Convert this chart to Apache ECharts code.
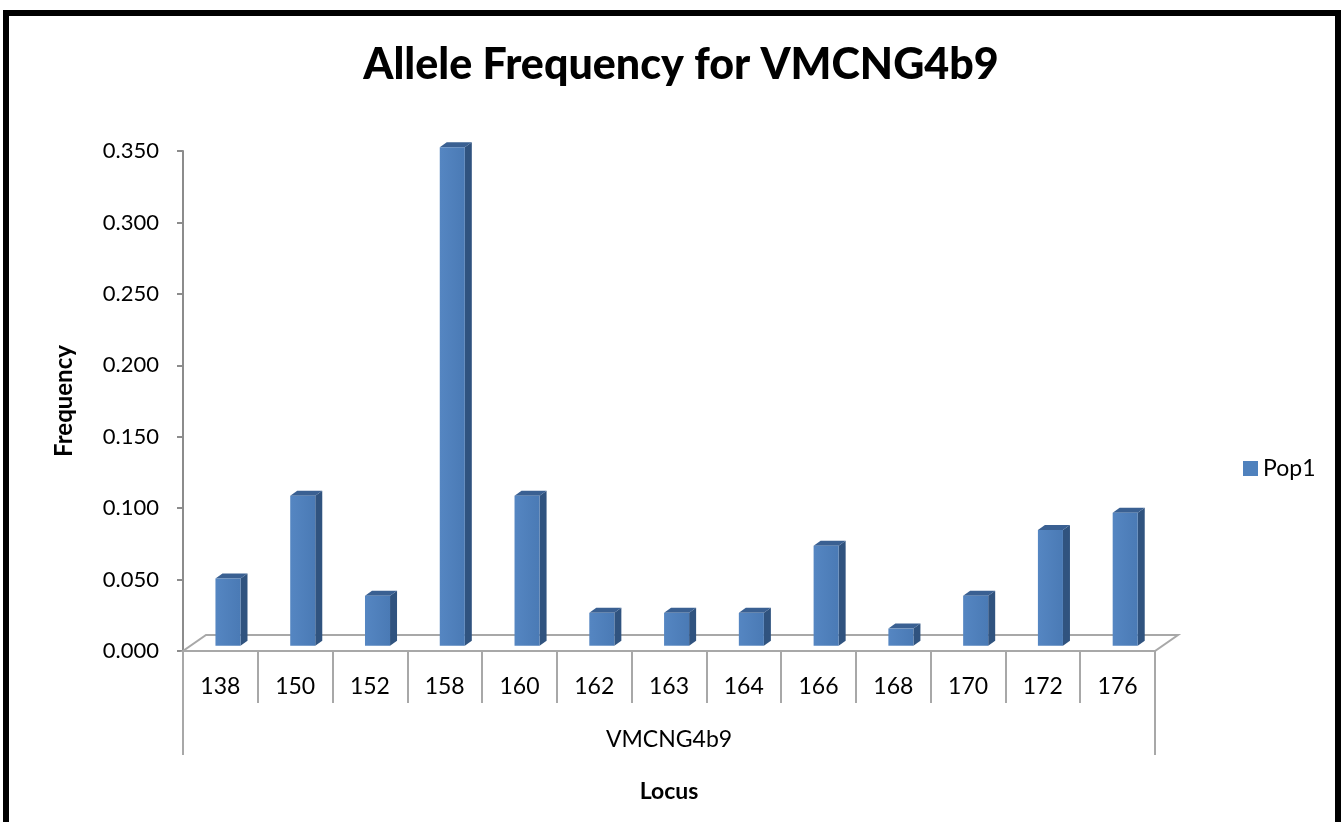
<!DOCTYPE html>
<html>
<head>
<meta charset="utf-8">
<script src="https://cdn.jsdelivr.net/npm/echarts@6/dist/echarts.min.js"></script>
<style>
  html, body { margin: 0; padding: 0; background: #fff; }
  #chart { width: 1341px; height: 822px; }
</style>
</head>
<body>
<div id="chart"></div>
<script>
const categories = ['138', '150', '152', '158', '160', '162', '163', '164', '166', '168', '170', '172', '176'];
const pop1 = [0.047, 0.105, 0.035, 0.349, 0.105, 0.023, 0.023, 0.023, 0.070, 0.012, 0.035, 0.081, 0.093];
const groupLabels = ['VMCNG4b9'];
const yTicks = { min: 0, max: 0.35, interval: 0.05 };

const FONT = 'Lato';
const DEPTH_X = 23, DEPTH_Y = -16;   // floor depth
const FRONT_F = 0.33;                 // bar front face depth fraction
const SIDE_X = 7, SIDE_Y = -5;        // bar own depth
const AXIS_GRAY = '#8C8C8C';

const chart = echarts.init(document.getElementById('chart'));

function renderBar(params, api) {
  const i = api.value(0), v = api.value(1);
  const base = api.coord([i, 0]);
  const top = api.coord([i, v]);
  const band = api.size([1, 0])[0];
  const w = band * 0.335;
  const cx = base[0] + DEPTH_X * FRONT_F;
  const x0 = cx - w / 2, x1 = cx + w / 2;
  const yb = base[1] + DEPTH_Y * FRONT_F;
  const yt = top[1] + DEPTH_Y * FRONT_F;
  return {
    type: 'group',
    children: [
      { type: 'polygon', shape: { points: [[x1, yb], [x1 + SIDE_X, yb + SIDE_Y], [x1 + SIDE_X, yt + SIDE_Y], [x1, yt]] },
        style: { fill: '#30537F' } },
      { type: 'polygon', shape: { points: [[x0, yt], [x0 + SIDE_X, yt + SIDE_Y], [x1 + SIDE_X, yt + SIDE_Y], [x1, yt]] },
        style: { fill: '#3A6092' } },
      { type: 'rect', shape: { x: x0, y: yt, width: w, height: yb - yt },
        style: { fill: new echarts.graphic.LinearGradient(0, 0, 1, 0, [
          { offset: 0, color: '#5586C2' }, { offset: 1, color: '#4A7AB5' }]) } }
    ]
  };
}

function renderFloor(params, api) {
  const cs = params.coordSys;
  const yf = cs.y + cs.height;
  return {
    type: 'polygon',
    shape: { points: [[cs.x, yf], [cs.x + cs.width, yf], [cs.x + cs.width + DEPTH_X, yf + DEPTH_Y], [cs.x + DEPTH_X, yf + DEPTH_Y]] },
    style: { fill: 'none', stroke: '#A8A8A8', lineWidth: 2 }
  };
}

const option = {
  animation: false,
  backgroundColor: '#ffffff',
  title: {
    text: 'Allele Frequency for VMCNG4b9',
    left: 676, textAlign: 'center', top: 39,
    textStyle: { fontFamily: FONT, fontWeight: 900, fontSize: 43, color: '#000' }
  },
  legend: {
    data: [{ name: 'Pop1', icon: 'rect' }],
    left: 1238, top: 452,
    itemWidth: 15, itemHeight: 15, itemGap: 10,
    textStyle: { fontFamily: FONT, fontSize: 23, color: '#000', padding: [0, 0, 0, 0] }
  },
  graphic: [
    { type: 'rect', shape: { x: 6, y: 13, width: 1332, height: 900 },
      style: { fill: 'none', stroke: '#000', lineWidth: 6 }, z: 100 }
  ],
  grid: { left: 183, right: 186, top: 151, bottom: 171, containLabel: false },
  xAxis: [
    {
      type: 'category', data: categories, position: 'bottom',
      axisLine: { show: true, lineStyle: { color: '#A8A8A8', width: 2 } },
      axisTick: { show: true, interval: 0, length: 52, lineStyle: { color: AXIS_GRAY, width: 1.5 } },
      axisLabel: { interval: 0, margin: 24, fontFamily: FONT, fontSize: 23, color: '#000' },
      splitLine: { show: false }
    },
    {
      type: 'category', data: groupLabels, position: 'bottom', offset: 0,
      axisLine: { show: false },
      axisTick: { show: true, interval: 0, length: 104, lineStyle: { color: AXIS_GRAY, width: 1.5 } },
      axisLabel: { interval: 0, margin: 77, fontFamily: FONT, fontSize: 23, color: '#000' },
      name: 'Locus', nameLocation: 'middle', nameGap: 129,
      nameTextStyle: { fontFamily: FONT, fontWeight: 'bold', fontSize: 23, color: '#000' },
      splitLine: { show: false }
    }
  ],
  yAxis: {
    type: 'value', min: yTicks.min, max: yTicks.max, interval: yTicks.interval,
    axisLine: { show: true, lineStyle: { color: AXIS_GRAY, width: 2 } },
    axisTick: { show: true, length: 6, lineStyle: { color: AXIS_GRAY, width: 2 } },
    axisLabel: { margin: 24, fontFamily: FONT, fontSize: 22, color: '#000',
      formatter: v => v.toFixed(3) },
    splitLine: { show: false },
    name: 'Frequency', nameLocation: 'middle', nameGap: 107,
    nameTextStyle: { fontFamily: FONT, fontWeight: 'bold', fontSize: 24, color: '#000' }
  },
  series: [
    {
      name: 'floor', type: 'custom', xAxisIndex: 0, renderItem: renderFloor,
      data: [[0, 0]], z: 1, silent: true
    },
    {
      name: 'Pop1', type: 'custom', xAxisIndex: 0, renderItem: renderBar,
      itemStyle: { color: '#4F81BD' },
      data: categories.map((c, i) => [i, pop1[i]]),
      encode: { x: 0, y: 1 }, z: 5
    }
  ]
};
chart.setOption(option);
</script>
</body>
</html>
